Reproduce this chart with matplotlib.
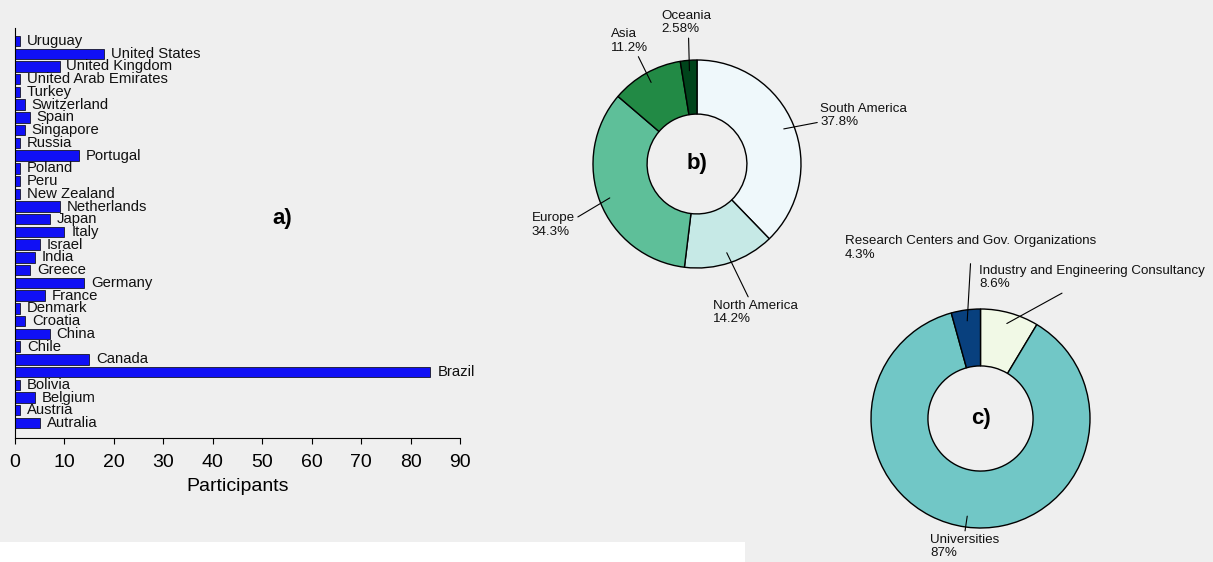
import numpy as np
import matplotlib
matplotlib.use("Agg")
import matplotlib.pyplot as plt
from matplotlib.patches import Rectangle

plt.rcParams['font.family'] = ['Liberation Sans', 'DejaVu Sans']

W, H = 1213, 562
BG = '#efefef'

# a) participants per country (top to bottom)
countries = ['Uruguay', 'United States', 'United Kingdom', 'United Arab Emirates', 'Turkey',
             'Switzerland', 'Spain', 'Singapore', 'Russia', 'Portugal', 'Poland', 'Peru',
             'New Zealand', 'Netherlands', 'Japan', 'Italy', 'Israel', 'India', 'Greece',
             'Germany', 'France', 'Denmark', 'Croatia', 'China', 'Chile', 'Canada', 'Brazil',
             'Bolivia', 'Belgium', 'Austria', 'Autralia']
participants = [1, 18, 9, 1, 1, 2, 3, 2, 1, 13, 1, 1, 1, 9, 7, 10, 5, 4, 3, 14, 6, 1, 2, 7,
                1, 15, 84, 1, 4, 1, 5]

# b) participants per continent
continents = ['South America', 'North America', 'Europe', 'Asia', 'Oceania']
continent_counts = [88, 33, 80, 26, 6]
continent_colors = ['#eff8fb', '#c6e9e6', '#5ebf99', '#228a45', '#00441b']

# c) participants per sector
sectors = ['Industry and Engineering Consultancy', 'Universities',
           'Research Centers and Gov. Organizations']
sector_counts = [8, 81, 4]
sector_colors = ['#f1f9e6', '#71c7c6', '#08407e']


def box(x0, y0, x1, y1):
    return [x0 / W, 1 - y1 / H, (x1 - x0) / W, (y1 - y0) / H]


def mid_angles(vals):
    frac = np.array(vals) / np.sum(vals)
    cum = np.cumsum(frac) - frac / 2
    return np.deg2rad(90 - cum * 360)


fig = plt.figure(figsize=(W / 100, H / 100), dpi=100, facecolor='white')
fig.patches.append(Rectangle((0, 20 / H), 1, 542 / H, transform=fig.transFigure,
                             facecolor=BG, edgecolor='none', zorder=-10))
fig.patches.append(Rectangle((745 / W, 0), (W - 745) / W, 20 / H, transform=fig.transFigure,
                             facecolor=BG, edgecolor='none', zorder=-10))

# ---- a) bar chart
ax = fig.add_axes(box(15, 28, 460, 438))
ax.set_facecolor('none')
n = len(countries)
ypos = np.arange(n)
ax.barh(ypos, participants, height=0.82, color='#1010f5', edgecolor='black', linewidth=0.5)
for y, name, v in zip(ypos, countries, participants):
    ax.annotate(name, (v, y), xytext=(5, 0), textcoords='offset points',
                ha='left', va='center', fontsize=10.7, color='#111111')
ax.set_xlim(0, 90)
ax.set_ylim(n - 1 + 1.18, -1.02)
ax.set_xticks(range(0, 91, 10))
ax.set_yticks([])
ax.tick_params(axis='x', length=4.5, width=0.8, labelsize=14, pad=7)
for s in ['top', 'right']:
    ax.spines[s].set_visible(False)
for s in ['left', 'bottom']:
    ax.spines[s].set_linewidth(0.8)
ax.set_xlabel('Participants', fontsize=14, labelpad=5)
ax.text(0.6, 0.535, 'a)', transform=ax.transAxes, fontsize=16, fontweight='bold',
        ha='center', va='center')


def donut(rect, vals, names, colors, fmt, text_pos, relpos, tag):
    pax = fig.add_axes(rect)
    pax.pie(vals, colors=colors, startangle=90, counterclock=False, radius=1,
            wedgeprops=dict(width=0.52, edgecolor='black', linewidth=1))
    pax.set_xlim(-1, 1)
    pax.set_ylim(-1, 1)
    pax.set_aspect('equal')
    pax.axis('off')
    total = np.sum(vals)
    for ang, name, v, tp, rp in zip(mid_angles(vals), names, vals, text_pos, relpos):
        pct = format(100 * v / total, fmt)
        pax.annotate(f'{name}\n{pct}%', xy=(0.9 * np.cos(ang), 0.9 * np.sin(ang)),
                     xytext=tp, ha='left', va='center', fontsize=9.6, color='#111111',
                     annotation_clip=False,
                     arrowprops=dict(arrowstyle='-', color='black', lw=0.8,
                                     shrinkA=0, shrinkB=0, relpos=rp))
    pax.text(0, 0, tag, ha='center', va='center', fontsize=16, fontweight='bold')


donut(box(593, 60, 801, 268), continent_counts, continents, continent_colors, '.3g',
      [(1.183, 0.466), (0.154, -1.428), (-1.587, -0.587), (-0.827, 1.183), (-0.346, 1.361)],
      [(0, 0.25), (0.43, 1), (1, 0.75), (0.7, 0), (0.55, 0)], 'b)')

donut(box(871, 309, 1090, 528), sector_counts, sectors, sector_colors, '.2g',
      [(-0.014, 1.288), (-0.461, -1.169), (-1.237, 1.557)],
      [(0.39, 0), (0.5, 1), (0.5, 0)], 'c)')

fig.savefig('out.png', dpi=100, facecolor=fig.get_facecolor())
